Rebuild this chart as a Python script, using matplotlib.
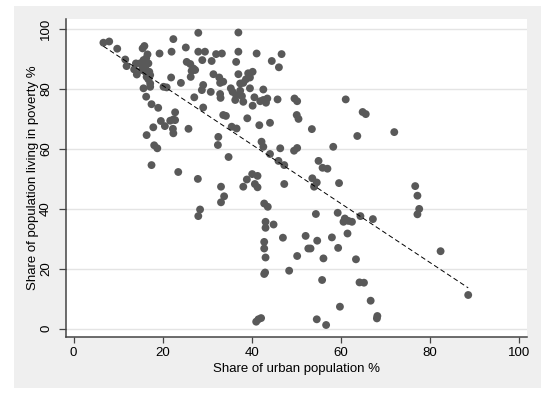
import matplotlib
import numpy as np

matplotlib.use("Agg")
import matplotlib.pyplot as plt
from matplotlib.patches import Rectangle

plt.rcParams["font.family"] = ["Liberation Sans", "DejaVu Sans"]

# share of urban population (%) per country
urban_share = [
    6.7, 8.0, 9.8, 11.6, 11.9, 13.6, 14.2, 14.0, 14.9, 15.7,
    16.3, 16.6, 15.5, 15.9, 16.8, 16.1, 15.3, 16.1, 17.0, 17.2,
    16.4, 16.8, 17.2, 15.7, 17.2, 16.3, 17.5, 19.0, 19.3, 22.4,
    22.0, 20.2, 20.9, 21.9, 22.8, 22.4, 21.7, 22.8, 19.6, 20.5,
    17.9, 22.3, 22.4, 25.8, 16.4, 18.1, 18.8, 25.2, 28.0, 25.4,
    26.2, 26.9, 27.3, 26.5, 26.3, 24.1, 27.1, 28.0, 37.0, 29.5,
    32.0, 33.3, 37.0, 41.1, 46.7, 28.9, 31.0, 36.5, 44.5, 46.1,
    31.4, 32.7, 33.6, 32.9, 37.0, 39.2, 40.2, 39.6, 38.7, 38.1,
    37.4, 29.1, 28.8, 30.8, 32.9, 33.0, 35.3, 35.7, 36.5, 37.4,
    37.8, 36.3, 38.1, 39.6, 40.6, 40.2, 42.6, 41.9, 42.6, 43.5,
    43.2, 45.8, 49.6, 50.2, 50.1, 50.5, 53.5, 29.1, 33.6, 34.2,
    39.0, 41.7, 44.1, 35.5, 36.6, 32.5, 32.4, 42.2, 42.6, 46.4,
    49.5, 50.2, 61.1, 64.9, 65.6, 63.7, 72.0, 58.3, 55.0, 55.9,
    57.0, 53.6, 54.6, 54.0, 59.6, 76.7, 44.1, 46.0, 47.3, 47.3,
    17.5, 23.5, 27.9, 34.8, 33.1, 33.8, 33.1, 28.4, 28.0, 38.1,
    38.9, 40.1, 41.3, 40.7, 41.3, 42.8, 43.6, 43.1, 43.1, 44.9,
    42.8, 42.8, 43.1, 43.0, 42.8, 47.0, 48.4, 50.2, 52.1, 52.7,
    53.2, 54.7, 56.1, 55.8, 58.0, 59.4, 54.4, 59.3, 60.9, 61.7,
    60.6, 62.5, 61.5, 64.4, 67.2, 63.4, 64.2, 65.2, 66.7, 68.1,
    68.2, 59.8, 54.6, 56.7, 41.0, 41.5, 42.1, 77.2, 77.6, 77.2,
    82.4, 88.6,
]

# share of population living in poverty (%)
poverty_share = [
    95.3, 95.7, 93.3, 89.7, 87.5, 86.4, 84.7, 88.4, 88.4, 89.5,
    90.1, 91.4, 93.4, 94.2, 88.4, 87.3, 86.2, 85.6, 85.6, 84.5,
    83.9, 83.1, 81.7, 80.1, 80.6, 77.3, 74.8, 73.6, 91.7, 96.5,
    92.3, 80.6, 80.4, 83.7, 72.1, 69.7, 69.3, 69.5, 69.2, 67.5,
    67.1, 66.6, 65.1, 66.6, 64.5, 61.1, 60.1, 93.7, 98.6, 88.9,
    88.2, 86.7, 86.2, 85.9, 83.9, 81.9, 77.1, 92.3, 98.7, 92.3,
    91.5, 91.7, 92.3, 91.7, 91.5, 89.5, 89.2, 88.9, 89.2, 87.1,
    84.8, 83.7, 82.3, 81.9, 84.8, 85.1, 85.6, 83.7, 83.1, 81.9,
    81.7, 81.2, 79.5, 78.9, 78.2, 76.9, 80.1, 78.9, 77.8, 79.3,
    77.5, 76.2, 75.6, 80.1, 77.1, 74.3, 79.7, 75.8, 76.2, 76.7,
    75.3, 76.4, 76.7, 75.8, 71.2, 69.9, 66.5, 73.7, 71.2, 70.9,
    70.1, 67.8, 68.6, 67.3, 66.7, 63.9, 61.2, 62.3, 60.6, 60.1,
    59.3, 60.2, 76.4, 72.2, 71.5, 64.2, 65.5, 60.6, 55.9, 53.6,
    53.3, 50.1, 48.7, 47.3, 48.5, 47.5, 58.2, 55.9, 54.5, 48.2,
    54.5, 52.2, 49.9, 57.2, 47.3, 44.1, 42.1, 39.7, 37.5, 47.3,
    49.7, 51.5, 50.9, 48.2, 47.1, 41.7, 40.6, 35.6, 33.6, 34.7,
    28.9, 26.7, 23.7, 18.7, 18.2, 30.3, 19.3, 24.2, 30.9, 26.7,
    26.7, 29.3, 23.4, 16.2, 30.4, 26.9, 38.2, 38.6, 36.7, 35.9,
    35.6, 35.6, 31.7, 37.5, 36.5, 23.1, 15.4, 15.3, 9.3, 3.4,
    4.2, 7.3, 3.1, 1.2, 2.3, 3.1, 3.5, 44.3, 39.9, 38.1,
    25.8, 11.2,
]

x_ticks = [0, 20, 40, 60, 80, 100]
y_ticks = [0, 20, 40, 60, 80, 100]


def main():
    x = np.array(urban_share)
    y = np.array(poverty_share)

    fig = plt.figure(figsize=(5.55, 3.98), dpi=100)
    fig.patch.set_facecolor("white")
    # light grey graph region, Stata style
    fig.patches.append(
        Rectangle((14 / 555, 10 / 398), 527 / 555, 382 / 398,
                  transform=fig.transFigure, facecolor="#efefef",
                  edgecolor="none", zorder=-10)
    )

    ax = fig.add_axes([66 / 555, 61 / 398, 461 / 555, 318 / 398])
    ax.set_zorder(5)
    ax.set_facecolor("white")

    ax.scatter(x, y, s=32, color="#595959", edgecolors="none", zorder=3)

    slope, intercept = np.polyfit(x, y, 1)
    fit_x = np.array([x.min(), x.max()])
    ax.plot(fit_x, intercept + slope * fit_x, color="black", linestyle=(0, (5, 3)),
            linewidth=0.7, zorder=4)

    ax.set_xlim(-1.7, 101.8)
    ax.set_ylim(-2.8, 103.2)
    ax.set_xticks(x_ticks)
    ax.set_yticks(y_ticks)
    ax.yaxis.grid(True, color="#e4e4e4", linewidth=1.0)
    ax.set_axisbelow(True)

    for side in ["top", "right"]:
        ax.spines[side].set_visible(False)
    for side in ["left", "bottom"]:
        ax.spines[side].set_color("#444444")
        ax.spines[side].set_linewidth(1.1)

    ax.tick_params(axis="both", colors="#444444", labelcolor="black",
                   labelsize=9.5, width=0.9)
    ax.tick_params(axis="y", length=5, pad=5)
    ax.tick_params(axis="x", length=4, pad=3)
    for label in ax.get_yticklabels():
        label.set_rotation(90)
        label.set_verticalalignment("center")

    ax.set_xlabel("Share of urban population %", fontsize=9.5, labelpad=3)
    ax.set_ylabel("Share of population living in poverty %", fontsize=9.5, labelpad=1)

    fig.savefig("out.png", dpi=100, facecolor="white")
    plt.close(fig)


if __name__ == "__main__":
    main()
